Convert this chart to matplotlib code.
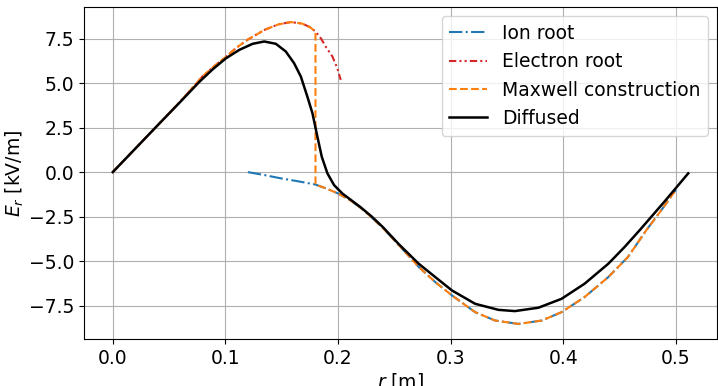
import numpy as np
import matplotlib
matplotlib.use('Agg')
import matplotlib.pyplot as plt

#Values (r in m, E_r in kV/m)
r_ion = [0.12, 0.135, 0.15, 0.165, 0.18, 0.19, 0.2, 0.21, 0.22, 0.23, 0.24, 0.254, 0.2717,
         0.2864, 0.3012, 0.3218, 0.3395, 0.3602, 0.381, 0.3985, 0.419, 0.44, 0.4575, 0.4737,
         0.487, 0.5]
E_ion = [0.0, -0.17, -0.36, -0.52, -0.7, -0.93, -1.2, -1.55, -2.0, -2.55, -3.15, -4.1, -5.33,
         -6.18, -6.93, -7.87, -8.34, -8.53, -8.34, -7.87, -7.02, -5.9, -4.77, -3.27,
         -2.15, -1.0]

r_el = [0.0, 0.02, 0.04, 0.06, 0.08, 0.09, 0.1, 0.11, 0.12, 0.135, 0.147, 0.158, 0.168,
        0.175, 0.18, 0.185, 0.189, 0.195, 0.1994, 0.2024]
E_el = [0.0, 1.32, 2.64, 3.97, 5.4, 5.95, 6.45, 7.0, 7.45, 8.0, 8.3, 8.43, 8.35,
        8.15, 7.9, 7.5, 7.06, 6.5, 5.84, 5.18]

r_jump = 0.18  #Maxwell construction switches roots here

r_dif = [0.0, 0.02, 0.04, 0.06, 0.077, 0.0888, 0.1006, 0.1124, 0.1242, 0.1345, 0.1448,
         0.1536, 0.161, 0.167, 0.1728, 0.1773, 0.1817, 0.1856, 0.1906, 0.1965, 0.2038,
         0.2097, 0.22, 0.23, 0.24, 0.254, 0.2717, 0.2864, 0.3012, 0.3218, 0.3425, 0.357,
         0.378, 0.3985, 0.419, 0.44, 0.4546, 0.4678, 0.49, 0.511]
E_dif = [0.0, 1.32, 2.64, 3.95, 5.08, 5.78, 6.4, 6.87, 7.21, 7.34, 7.21,
         6.78, 6.12, 5.37, 4.24, 3.31, 1.99, 0.86, -0.07, -0.73, -1.2,
         -1.48, -1.97, -2.5, -3.1, -4.05, -5.15, -5.9, -6.65, -7.4, -7.74, -7.81,
         -7.62, -7.12, -6.27, -5.15, -4.2, -3.27, -1.65, -0.07]

r_el = np.array(r_el); E_el = np.array(E_el)
r_ion = np.array(r_ion); E_ion = np.array(E_ion)
r_max = np.concatenate([r_el[r_el <= r_jump], r_ion[r_ion >= r_jump]])
E_max = np.concatenate([E_el[r_el <= r_jump], E_ion[r_ion >= r_jump]])

plt.rcParams['font.size'] = 13.5
fig = plt.figure(figsize=(7.18, 3.86), dpi=100)
ax = fig.add_subplot(111)
fig.subplots_adjust(left=84/718, right=717/718, top=1-7/386, bottom=1-339/386)

ax.plot(r_ion, E_ion, '-.', color='tab:blue', lw=1.5, label='Ion root')
ax.plot(r_el, E_el, '-.', color='tab:red', lw=1.5, dashes=(3.5, 1.5, 1, 1.5, 1, 1.5), label='Electron root')
ax.plot(r_max, E_max, '--', color='tab:orange', lw=1.5, label='Maxwell construction')
ax.plot(r_dif, E_dif, '-', color='k', lw=1.8, label='Diffused')

ax.set_xlabel(r'$r$ [m]', labelpad=2)
ax.set_ylabel(r'$E_r$ [kV/m]', labelpad=2)
ax.set_yticks([-7.5, -5.0, -2.5, 0.0, 2.5, 5.0, 7.5])
ax.grid(True)
ax.legend(loc='upper right')

fig.savefig('out.png', dpi=100)
